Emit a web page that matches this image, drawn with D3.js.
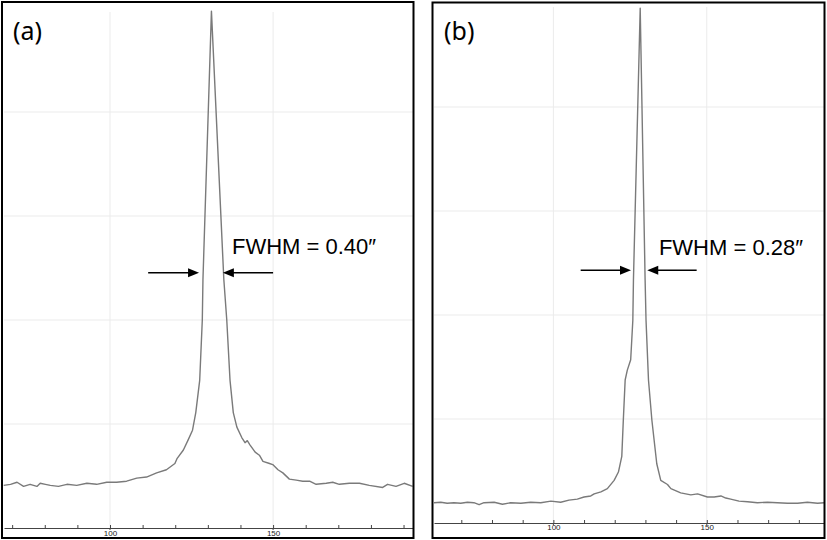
<!DOCTYPE html>
<html><head><meta charset="utf-8">
<script src="https://cdn.jsdelivr.net/npm/d3@7"></script>
<style>
html,body{margin:0;padding:0;background:#fff;}
svg{display:block;}
</style></head>
<body>
<svg id="c" width="827" height="540"></svg>
<script>
// ---- Data ----
const profileA_x = [67.4,69.5,71.5,73.5,75.5,77.6,78.6,80.2,81.7,84.2,86.8,89.8,92.9,95.9,99.0,102.0,105.1,108.2,111.2,114.3,117.3,119.9,120.6,122.5,124.0,125.3,126.3,127.5,128.3,128.5,131.1,134.9,135.8,136.8,137.8,138.9,140.4,141.4,142.1,142.9,144.5,145.8,146.9,148.9,149.9,151.5,153.0,155.0,157.1,159.1,161.2,163.2,166.3,168.3,170.3,173.4,176.5,179.5,183.6,185.1,187.7,190.2,192.8];
const profileA_y = [0.41,0.42,0.44,0.40,0.42,0.40,0.43,0.42,0.41,0.40,0.42,0.41,0.43,0.42,0.44,0.44,0.45,0.48,0.49,0.53,0.56,0.62,0.67,0.75,0.85,0.94,1.11,1.42,2.00,2.39,4.97,2.39,2.00,1.42,1.11,0.97,0.87,0.82,0.84,0.80,0.73,0.70,0.64,0.62,0.61,0.56,0.53,0.47,0.46,0.45,0.45,0.42,0.43,0.44,0.42,0.43,0.43,0.41,0.39,0.42,0.40,0.43,0.40];

const profileB_x = [61.1,63.3,65.4,67.6,69.8,72.0,74.1,75.8,77.4,80.7,83.4,86.1,89.4,92.6,95.9,99.2,102.4,105.1,107.8,110.0,112.2,113.3,115.5,117.6,119.8,121.2,122.3,122.8,123.4,124.1,125.2,125.9,126.1,128.3,129.9,130.2,131.0,132.1,133.7,135.0,137.2,138.3,141.5,144.8,147.0,150.2,152.4,154.6,156.2,157.8,160.5,163.3,166.5,169.8,173.0,176.3,179.6,182.8,186.1,188.2];
const profileB_y = [0.195,0.20,0.19,0.195,0.19,0.20,0.195,0.176,0.195,0.20,0.18,0.195,0.19,0.20,0.195,0.21,0.20,0.22,0.23,0.25,0.26,0.28,0.30,0.33,0.41,0.49,0.64,0.99,1.375,1.47,1.57,1.95,2.34,4.95,2.34,1.95,1.375,0.99,0.57,0.41,0.37,0.33,0.29,0.27,0.28,0.25,0.25,0.26,0.24,0.23,0.21,0.205,0.195,0.20,0.195,0.19,0.19,0.20,0.19,0.195];

const tickValuesA = [70,80,90,100,110,120,130,140,150,160,170,180,190];
const tickValuesB = [70,80,90,100,110,120,130,140,150,160,170,180];
const tickLabels = [100,150];
const gridY = [1,2,3,4];
const panelLabels = ["(a)","(b)"];
const fwhmTexts = ["FWHM = 0.40\u2033","FWHM = 0.28\u2033"];
// FWHM arrows: [tailLeft, tipLeft, tipRight, tailRight, level]
const fwhmA = [111.7,127.3,134.6,150.0,2.455];
const fwhmB = [108.9,125.3,130.6,146.7,2.43];
const fwhmTextPosA = [137.4,2.63];
const fwhmTextPosB = [134.4,2.58];

const svg = d3.select("#c");

function panel(cfg){
  const g = svg.append("g");
  const x = d3.scaleLinear().domain(cfg.xDomain).range(cfg.xRange);
  const y = d3.scaleLinear().domain([0,5]).range(cfg.yRange);
  // grid
  g.selectAll(".gh").data(gridY).join("line")
    .attr("x1",cfg.xRange[0]).attr("x2",cfg.xRange[1])
    .attr("y1",d=>y(d)).attr("y2",d=>y(d))
    .attr("stroke","#ebebeb").attr("stroke-width",1);
  g.selectAll(".gv").data(tickLabels).join("line")
    .attr("x1",d=>x(d)).attr("x2",d=>x(d))
    .attr("y1",y(5)+4).attr("y2",y(0))
    .attr("stroke","#ebebeb").attr("stroke-width",1);
  // axis
  const ax = d3.axisBottom(x).tickValues(cfg.ticks).tickSize(-3).tickSizeOuter(0)
    .tickPadding(cfg.pad).tickFormat(d=>tickLabels.includes(d)?d:"");
  const axg = g.append("g").attr("transform",`translate(0,${y(0)})`).call(ax);
  axg.select(".domain").attr("stroke","#444").attr("stroke-width",1);
  axg.selectAll(".tick line").attr("stroke","#444");
  axg.selectAll(".tick text").attr("fill","#222").attr("font-size",8)
    .attr("font-family","Liberation Sans, Arial, sans-serif");
  g.selectAll(".mt").data(tickLabels).join("line")
    .attr("x1",d=>x(d)).attr("x2",d=>x(d))
    .attr("y1",y(0)).attr("y2",y(0)+2).attr("stroke","#444");
  // curve
  const pts = cfg.xs.map((v,i)=>[v,cfg.ys[i]]);
  g.append("path").datum(pts)
    .attr("d",d3.line().x(d=>x(d[0])).y(d=>y(d[1])))
    .attr("fill","none").attr("stroke","#7a7a7a").attr("stroke-width",1.4)
    .attr("stroke-linejoin","round");
  // arrows
  const f = cfg.fwhm, ly = y(f[4]);
  const arrow = (tail, tip) => {
    const xt = x(tail), xp = x(tip), dir = Math.sign(xp-xt);
    g.append("line").attr("x1",xt).attr("x2",xp-dir*8).attr("y1",ly).attr("y2",ly)
      .attr("stroke","#000").attr("stroke-width",1.6);
    g.append("path").attr("d",`M${xp},${ly} L${xp-dir*11},${ly-4.5} L${xp-dir*11},${ly+4.5} Z`)
      .attr("fill","#000");
  };
  arrow(f[0],f[1]); arrow(f[3],f[2]);
  g.append("text").attr("x",x(cfg.textPos[0])).attr("y",y(cfg.textPos[1]))
    .attr("font-family","Liberation Sans, Arial, sans-serif").attr("font-size",22)
    .attr("fill","#000").text(cfg.text);
  g.append("text").attr("x",cfg.labelPos[0]).attr("y",cfg.labelPos[1])
    .attr("font-family","Noto Sans, Open Sans, sans-serif").attr("font-size",25)
    .attr("fill","#000").text(cfg.label);
  // frame
  g.append("rect").attr("x",cfg.frame[0]).attr("y",cfg.frame[1])
    .attr("width",cfg.frame[2]).attr("height",cfg.frame[3])
    .attr("fill","none").attr("stroke","#000").attr("stroke-width",2);
}

panel({xDomain:[67.5,192.9], xRange:[4,413], yRange:[528,8], ticks:tickValuesA, pad:2,
  xs:profileA_x, ys:profileA_y, fwhm:fwhmA, textPos:fwhmTextPosA, text:fwhmTexts[0],
  label:panelLabels[0], labelPos:[13,39.5], frame:[2,2,411.5,536]});
panel({xDomain:[61.1,188.2], xRange:[434,824], yRange:[523,3], ticks:tickValuesB, pad:1,
  xs:profileB_x, ys:profileB_y, fwhm:fwhmB, textPos:fwhmTextPosB, text:fwhmTexts[1],
  label:panelLabels[1], labelPos:[444,40], frame:[432.5,2.5,392,535.5]});
</script>
</body></html>
